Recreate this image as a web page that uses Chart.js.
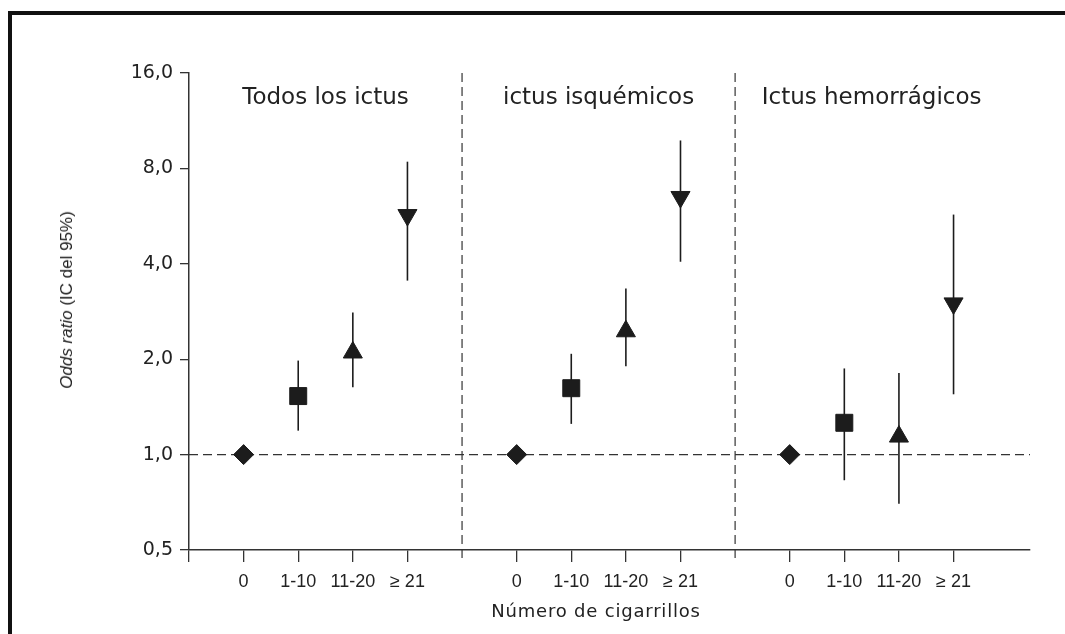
<!DOCTYPE html>
<html lang="es">
<head>
<meta charset="UTF-8">
<title>Odds ratio - ictus y cigarrillos</title>
<script src="https://cdn.jsdelivr.net/npm/chart.js"></script>
<style>
  html, body { margin: 0; background: #fff; overflow: hidden; width: 1065px; height: 634px; }
  .marco { position: absolute; left: 8px; top: 11px; width: 1100px; height: 700px; border-top: 4px solid #111; border-left: 4px solid #111; }
  .grafico { position: absolute; left: 0; top: 0; width: 1065px; height: 634px; }
  .eje-y { position: absolute; left: 67px; top: 300px; transform: translate(-50%, -50%) rotate(-90deg); font: 17px 'Liberation Sans', Arial, sans-serif; color: #222; white-space: nowrap; }
  .eje-x { position: absolute; left: 596px; top: 610px; transform: translate(-50%, -50%); font: 18px 'DejaVu Sans', sans-serif; letter-spacing: 0.8px; color: #222; white-space: nowrap; }
</style>
</head>
<body>
<div class="marco"></div>
<div class="grafico"><canvas id="graficoOR"></canvas></div>
<div class="eje-y"><i>Odds ratio</i> (IC del 95%)</div>
<div class="eje-x">Número de cigarrillos</div>

<script>
// datos
const grupos = ['Todos los ictus', 'ictus isquémicos', 'Ictus hemorrágicos'];
const categorias = ['0', '1-10', '11-20', '≥ 21'];

const orTodos = [1.0, 1.53, 2.10, 5.70];
const icInfTodos = [1.0, 1.19, 1.63, 3.54];
const icSupTodos = [1.0, 1.98, 2.81, 8.40];

const orIsquemicos = [1.0, 1.62, 2.45, 6.50];
const icInfIsquemicos = [1.0, 1.25, 1.90, 4.06];
const icSupIsquemicos = [1.0, 2.08, 3.34, 9.80];

const orHemorragicos = [1.0, 1.26, 1.14, 3.00];
const icInfHemorragicos = [1.0, 0.83, 0.70, 1.55];
const icSupHemorragicos = [1.0, 1.87, 1.81, 5.72];

const yTicks = [0.5, 1, 2, 4, 8, 16];
const yTickLabels = ['0,5', '1,0', '2,0', '4,0', '8,0', '16,0'];

// estilo de marcador por categoria
const estilos = ['rectRot', 'rect', 'triangle', 'triangle'];
const rotaciones = [0, 0, 0, 180];
const radios = [10, 12, 11, 11];

const ors = [orTodos, orIsquemicos, orHemorragicos];
const infs = [icInfTodos, icInfIsquemicos, icInfHemorragicos];
const sups = [icSupTodos, icSupIsquemicos, icSupHemorragicos];

const anchoPanel = categorias.length + 1;
const xMax = 15.4;

let puntos = [];
let xTicks = [];
for (let g = 0; g < grupos.length; g++) {
    xTicks.push(g * anchoPanel);
    for (let i = 0; i < categorias.length; i++) {
        const x = g * anchoPanel + i + 1;
        xTicks.push(x);
        puntos.push({ x: x, y: ors[g][i], lo: infs[g][i], hi: sups[g][i] });
    }
}
// las divisiones entre paneles llevan linea discontinua, no marca
xTicks = xTicks.filter(v => v === 0 || v % anchoPanel !== 0);

const colorTinta = '#1c1c1c';

// lineas discontinuas y barras de error
const pluginFondo = {
    id: 'fondo',
    beforeDatasetsDraw(chart) {
        const ctx = chart.ctx;
        const xs = chart.scales.x;
        const ys = chart.scales.y;
        const area = chart.chartArea;
        ctx.save();
        ctx.strokeStyle = '#333';
        ctx.lineWidth = 1.2;
        ctx.setLineDash([9, 5]);
        // referencia OR = 1
        const y1 = ys.getPixelForValue(1);
        ctx.beginPath();
        ctx.moveTo(area.left, y1);
        ctx.lineTo(area.right, y1);
        ctx.stroke();
        // separacion de paneles
        for (let g = 1; g < grupos.length; g++) {
            const xp = xs.getPixelForValue(g * anchoPanel);
            ctx.beginPath();
            ctx.moveTo(xp, area.top);
            ctx.lineTo(xp, area.bottom + 12);
            ctx.stroke();
        }
        ctx.setLineDash([]);
        ctx.strokeStyle = colorTinta;
        ctx.lineWidth = 1.6;
        puntos.forEach(p => {
            if (p.lo === p.hi) return;
            const xp = xs.getPixelForValue(p.x);
            ctx.beginPath();
            ctx.moveTo(xp, ys.getPixelForValue(p.lo));
            ctx.lineTo(xp, ys.getPixelForValue(p.hi));
            ctx.stroke();
        });
        ctx.restore();
    },
    afterDraw(chart) {
        const ctx = chart.ctx;
        const xs = chart.scales.x;
        ctx.save();
        ctx.fillStyle = '#222';
        ctx.font = '23px "DejaVu Sans", sans-serif';
        ctx.textAlign = 'center';
        ctx.textBaseline = 'middle';
        for (let g = 0; g < grupos.length; g++) {
            const ini = g * anchoPanel;
            const fin = Math.min((g + 1) * anchoPanel, xMax);
            ctx.fillText(grupos[g], xs.getPixelForValue((ini + fin) / 2), chart.chartArea.top + 25);
        }
        ctx.restore();
    }
};

const config = {
    type: 'scatter',
    data: {
        datasets: [{
            data: puntos,
            backgroundColor: colorTinta,
            borderColor: colorTinta,
            borderWidth: 1,
            pointStyle: ctx => estilos[ctx.dataIndex % 4],
            pointRotation: ctx => rotaciones[ctx.dataIndex % 4],
            pointRadius: ctx => radios[ctx.dataIndex % 4],
            pointHoverRadius: ctx => radios[ctx.dataIndex % 4]
        }]
    },
    options: {
        responsive: true,
        maintainAspectRatio: false,
        animation: false,
        layout: { padding: { top: 73, right: 35, left: 0, bottom: 0 } },
        plugins: {
            legend: { display: false },
            tooltip: { enabled: false }
        },
        scales: {
            x: {
                type: 'linear',
                min: 0,
                max: xMax,
                afterBuildTicks: scale => { scale.ticks = xTicks.map(v => ({ value: v })); },
                afterFit: scale => { scale.height = 84; },
                grid: { drawOnChartArea: false, tickLength: 12, color: '#333', lineWidth: 1.3 },
                border: { color: '#333', width: 1.5 },
                ticks: {
                    autoSkip: false,
                    maxRotation: 0,
                    padding: 9,
                    color: '#222',
                    font: { family: 'Liberation Sans', size: 18 },
                    callback: v => (v % anchoPanel === 0) ? '' : categorias[(v % anchoPanel) - 1]
                }
            },
            y: {
                type: 'logarithmic',
                min: 0.5,
                max: 16,
                afterBuildTicks: scale => { scale.ticks = yTicks.map(v => ({ value: v })); },
                afterFit: scale => { scale.width = 189; },
                grid: { drawOnChartArea: false, tickLength: 9, color: '#333', lineWidth: 1.3 },
                border: { color: '#333', width: 1.5 },
                ticks: {
                    autoSkip: false,
                    padding: 7,
                    color: '#222',
                    font: { family: 'DejaVu Sans', size: 19 },
                    callback: (v, i) => yTickLabels[i]
                }
            }
        }
    },
    plugins: [pluginFondo]
};

new Chart(document.getElementById('graficoOR'), config);
</script>
</body>
</html>
